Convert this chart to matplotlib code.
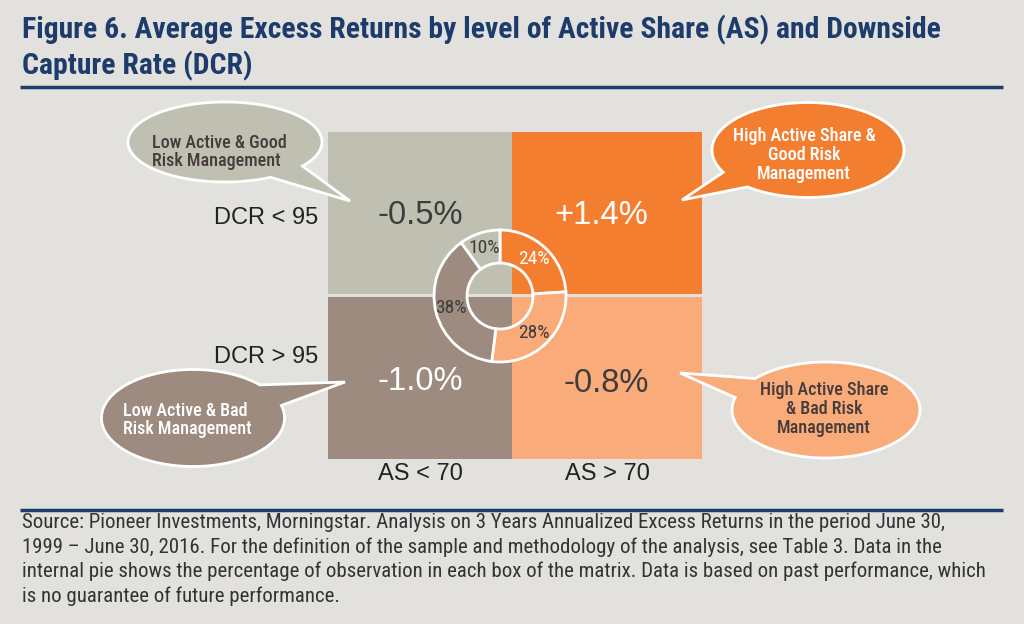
import numpy as np
import matplotlib.pyplot as plt
from matplotlib.patches import Rectangle, Polygon

NARROW = ['Roboto Condensed', 'Archivo Narrow', 'Barlow Condensed', 'DejaVu Sans']
PLAIN = ['Liberation Sans', 'DejaVu Sans']

title = ('Figure 6. Average Excess Returns by level of Active Share (AS) and Downside\n'
         'Capture Rate (DCR)')
source = ('Source: Pioneer Investments, Morningstar. Analysis on 3 Years Annualized Excess Returns in the period June 30,\n'
          '1999 \u2013 June 30, 2016. For the definition of the sample and methodology of the analysis, see Table 3. Data in the\n'
          'internal pie shows the percentage of observation in each box of the matrix. Data is based on past performance, which\n'
          'is no guarantee of future performance.')

row_labels = ['DCR < 95', 'DCR > 95']
col_labels = ['AS < 70', 'AS > 70']
cell_values = [['-0.5%', '+1.4%'],
               ['-1.0%', '-0.8%']]
cell_colors = [['#c0c0b2', '#f47e30'],
               ['#9c8b7e', '#f9ab7a']]
value_colors = [['#3d3d3d', 'white'],
                ['white', '#3d3d3d']]

# share of observations, clockwise from 12 o'clock
pie_shares = [24, 28, 38, 10]
pie_colors = ['#f47e30', '#f9ab7a', '#9c8b7e', '#c0c0b2']
pie_text_colors = ['white', '#3d3d3d', '#3d3d3d', '#3d3d3d']

bubble_texts = ['Low Active & Good\nRisk Management',
                'High Active Share &\nGood Risk\nManagement',
                'Low Active & Bad\nRisk Management',
                'High Active Share\n& Bad Risk\nManagement']
bubble_colors = ['#c0c0b2', '#f47e30', '#9c8b7e', '#f9ab7a']
bubble_text_colors = ['#463c3c', 'white', 'white', '#463c3c']

BG = '#e2e1dd'
NAVY = '#1d3c6c'

fig = plt.figure(figsize=(10.24, 6.24), dpi=100, facecolor=BG)
ax = fig.add_axes([0, 0, 1, 1])
ax.set_facecolor(BG)

# matrix
xe = [328, 512, 702]
ye = [132, 295, 459]
for r in range(2):
    for c in range(2):
        y0 = ye[r] + (1.5 if r == 1 else 0)
        y1 = ye[r + 1] - (1.5 if r == 0 else 0)
        ax.add_patch(Rectangle((xe[c], y0), xe[c + 1] - xe[c], y1 - y0,
                               fc=cell_colors[r][c], ec='none', zorder=1))
val_pos = [[(420, 216), (601, 216)], [(420, 381), (606, 383)]]
for r in range(2):
    for c in range(2):
        ax.text(*val_pos[r][c], cell_values[r][c], color=value_colors[r][c],
                fontsize=23.5, family=PLAIN, ha='center', va='center', zorder=5)

for lab, y in zip(row_labels, [218, 357]):
    ax.text(318, y, lab, fontsize=17, family=PLAIN, color='#222222',
            ha='right', va='center')
for lab, x in zip(col_labels, [420, 607]):
    ax.text(x, 474, lab, fontsize=17, family=PLAIN, color='#222222',
            ha='center', va='center')

# donut
wedges, _, autotexts = ax.pie(
    pie_shares, colors=pie_colors, center=(500, 296), radius=66,
    startangle=-90, counterclock=True, frame=True,
    autopct='%d%%', pctdistance=0.76,
    wedgeprops=dict(width=33, edgecolor='white', linewidth=2),
    textprops=dict(fontsize=14, family=NARROW))
for w in wedges:
    w.set_zorder(3)
for t, col in zip(autotexts, pie_text_colors):
    t.set_color(col)
    t.set_zorder(4)


def bubble(cx, cy, w, h, t1, t2, tip, color):
    a, b = w / 2, h / 2
    t = np.radians(np.linspace(t2, t1 + 360, 240))
    pts = np.column_stack([cx + a * np.cos(t), cy + b * np.sin(t)])
    pts = np.vstack([pts, tip])
    ax.add_patch(Polygon(pts, closed=True, fc=color, ec='white', lw=2, zorder=6))


bubble(225, 142, 194, 80, 37, 62, (350, 201), bubble_colors[0])
bubble(808, 150, 192, 95, 129, 152, (682, 200), bubble_colors[1])
bubble(193, 418, 183, 97, -43, -15, (345, 382), bubble_colors[2])
bubble(826, 410, 188, 96, 195, 221, (680, 373), bubble_colors[3])

txt_pos = [(152, 152, 'left'), (804, 155, 'center'),
           (123, 420, 'left'), (824, 409, 'center')]
for (x, y, ha), s, col in zip(txt_pos, bubble_texts, bubble_text_colors):
    ax.text(x, y, s, fontsize=13, family=NARROW, fontweight='medium', color=col,
            ha=ha, va='center', multialignment=ha, linespacing=1.05, zorder=7)

# title, rules and source
ax.text(22, 15, title, fontsize=21.3, fontweight='bold', family=NARROW,
        color=NAVY, ha='left', va='top', linespacing=1.25)
ax.plot([20, 1003], [87, 87], color=NAVY, lw=2.5, solid_capstyle='butt')
ax.plot([20, 1003], [510, 510], color=NAVY, lw=2.5, solid_capstyle='butt')
ax.text(22, 513, source, fontsize=15, family=NARROW, color='#333333',
        ha='left', va='top', linespacing=1.33)

ax.set_xlim(0, 1024)
ax.set_ylim(624, 0)
ax.axis('off')

fig.savefig('out.png', dpi=100, facecolor=BG)
